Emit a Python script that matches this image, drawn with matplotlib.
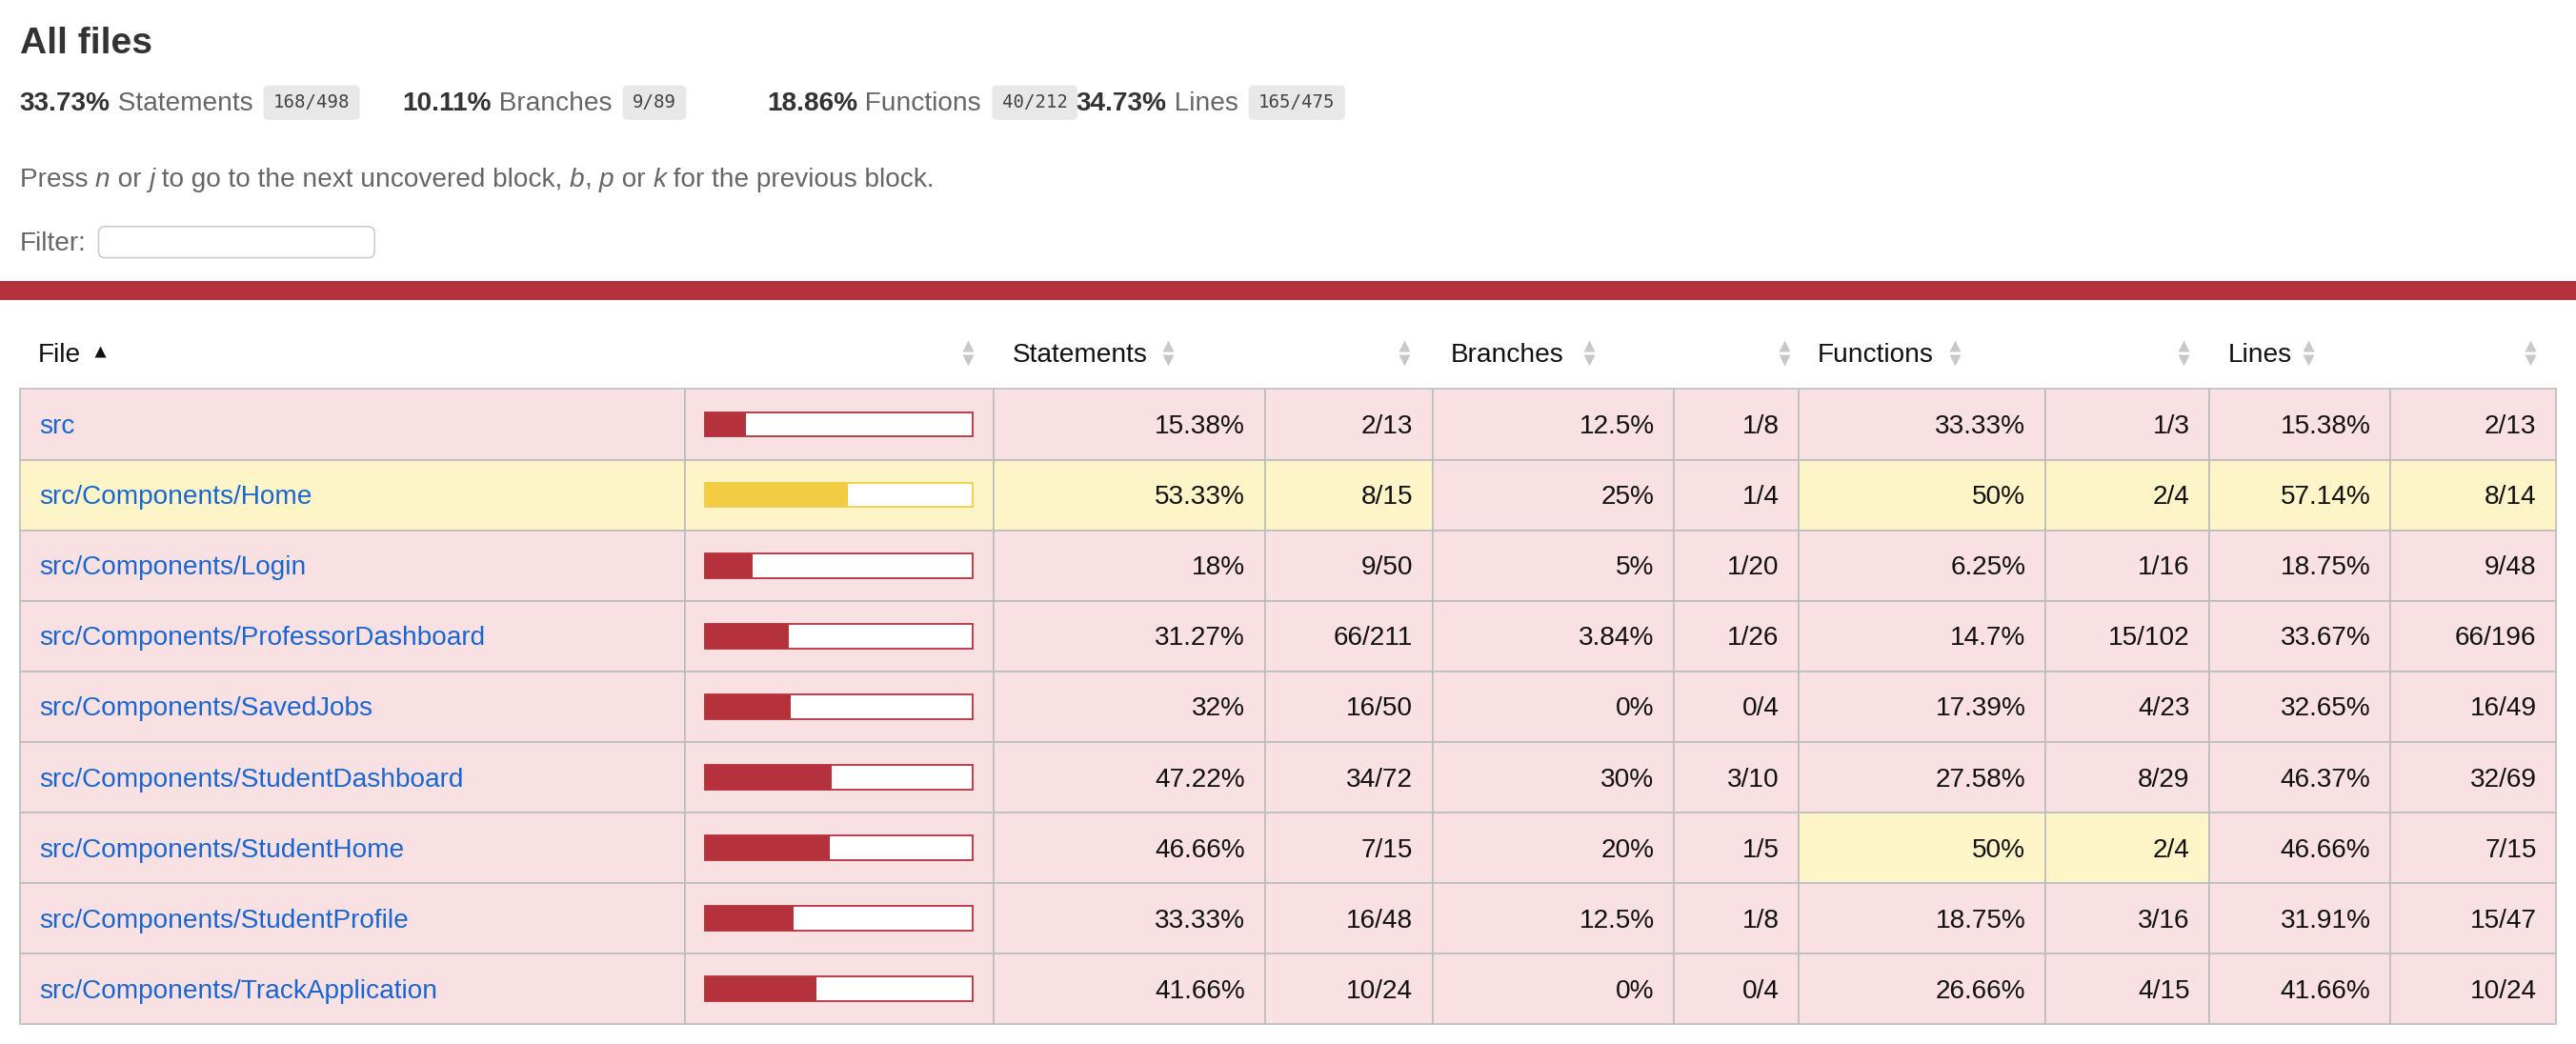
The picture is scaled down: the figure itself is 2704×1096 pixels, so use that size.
import matplotlib
matplotlib.use("Agg")
import matplotlib.pyplot as plt
from matplotlib.patches import Rectangle, FancyBboxPatch

# summary
summary_names = ["Statements", "Branches", "Functions", "Lines"]
summary_pct = ["33.73%", "10.11%", "18.86%", "34.73%"]
summary_frac = ["168/498", "9/89", "40/212", "165/475"]

files = ["src", "src/Components/Home", "src/Components/Login",
         "src/Components/ProfessorDashboard", "src/Components/SavedJobs",
         "src/Components/StudentDashboard", "src/Components/StudentHome",
         "src/Components/StudentProfile", "src/Components/TrackApplication"]
stmt_pct = [15.38, 53.33, 18, 31.27, 32, 47.22, 46.66, 33.33, 41.66]
stmt_frac = ["2/13", "8/15", "9/50", "66/211", "16/50", "34/72", "7/15", "16/48", "10/24"]
br_pct = [12.5, 25, 5, 3.84, 0, 30, 20, 12.5, 0]
br_frac = ["1/8", "1/4", "1/20", "1/26", "0/4", "3/10", "1/5", "1/8", "0/4"]
fn_pct = [33.33, 50, 6.25, 14.7, 17.39, 27.58, 50, 18.75, 26.66]
fn_frac = ["1/3", "2/4", "1/16", "15/102", "4/23", "8/29", "2/4", "3/16", "4/15"]
ln_pct = [15.38, 57.14, 18.75, 33.67, 32.65, 46.37, 46.66, 31.91, 41.66]
ln_frac = ["2/13", "8/14", "9/48", "66/196", "16/49", "32/69", "7/15", "15/47", "10/24"]

S = 2704 / 1568.0
FS = 14 * 1.16 * S * 0.72
FONT = "Liberation Sans"
RED, YEL = "#b5323d", "#f2cd44"
LOW_BG, MED_BG = "#f9e0e3", "#fdf4c8"
LINK = "#1a66d0"
DY = 1.5

fig = plt.figure(figsize=(27.04, 10.96), dpi=100)
ax = fig.add_axes([0, 0, 1, 1])
ax.set_xlim(0, 1568)
ax.set_ylim(636, 0)
ax.axis("off")
fig.canvas.draw()
rend = fig.canvas.get_renderer()


def pieces(x, y, parts, size=FS):
    # place text pieces one after another
    for txt, kw in parts:
        t = ax.text(x, y + DY, txt, fontsize=size, va="center", ha="left", family=FONT, **kw)
        bb = t.get_window_extent(rend).transformed(ax.transData.inverted())
        x = bb.x1
    return x


def cls(p):
    return "med" if 50 <= p < 80 else "low"


ax.text(12, 25 + DY, "All files", fontsize=20 * 1.13 * S * 0.72, fontweight="bold",
        family=FONT, va="center", color="#333")

xs = [12, 245, 467, 655]
for x0, n, p, f in zip(xs, summary_names, summary_pct, summary_frac):
    x1 = pieces(x0, 62, [(p, dict(fontweight="bold", color="#333")),
                         (" " + n + " ", dict(color="#666"))])
    t = ax.text(x1 + 8, 62 + 0.5, f, fontsize=11 * S * 0.72, family="DejaVu Sans Mono",
                va="center", ha="left", color="#444")
    bb = t.get_window_extent(rend).transformed(ax.transData.inverted())
    ax.add_patch(FancyBboxPatch((x1 + 2, 52), bb.x1 - x1 + 4, 21,
                                boxstyle="round,pad=0,rounding_size=3",
                                fc="#e8e8e8", ec="none", zorder=0))

g = dict(color="#666")
gi = dict(color="#666", style="italic")
pieces(12, 108, [("Press ", g), ("n", gi), (" or ", g), ("j", gi),
                 (" to go to the next uncovered block, ", g), ("b", gi), (", ", g),
                 ("p", gi), (" or ", g), ("k", gi), (" for the previous block.", g)])

ax.text(12, 147 + DY, "Filter:", fontsize=FS, family=FONT, va="center", color="#666")
ax.add_patch(FancyBboxPatch((60, 138), 168, 19, boxstyle="round,pad=0,rounding_size=4",
                            fc="white", ec="#cccccc", lw=1.2))

ax.add_patch(Rectangle((0, 171), 1568, 12, fc=RED, ec="none"))

# header
def arrows(x, y=215):
    ax.plot([x], [y - 4.5], marker="^", ms=9, color="#c8c8c8", mec="none")
    ax.plot([x], [y + 4.5], marker="v", ms=9, color="#c8c8c8", mec="none")

ax.text(23, 215 + DY, "File", fontsize=FS, family=FONT, va="center", color="#111")
ax.plot([61], [214], marker="^", ms=9, color="#111", mec="none")
for x in [589, 711, 855, 967, 1086, 1190, 1329, 1405, 1540]:
    arrows(x)
for x, h in zip([616, 883, 1106, 1356], ["Statements", "Branches", "Functions", "Lines"]):
    ax.text(x, 215 + DY, h, fontsize=FS, family=FONT, va="center", color="#111")

cols = [12, 417, 605, 770, 872, 1019, 1095, 1245, 1345, 1455, 1556]
top, rh = 237, 43.0
for i, name in enumerate(files):
    y0 = top + i * rh
    yc = y0 + rh / 2
    sc = cls(stmt_pct[i])
    classes = [sc, sc, sc, sc, cls(br_pct[i]), cls(br_pct[i]),
               cls(fn_pct[i]), cls(fn_pct[i]), cls(ln_pct[i]), cls(ln_pct[i])]
    for c in range(10):
        ax.add_patch(Rectangle((cols[c], y0), cols[c + 1] - cols[c], rh,
                               fc=MED_BG if classes[c] == "med" else LOW_BG,
                               ec="#bdbdbd", lw=1.2))
    ax.text(24, yc + DY, name, fontsize=FS, family=FONT, va="center", color=LINK)
    bc = YEL if sc == "med" else RED
    ax.add_patch(Rectangle((429, yc - 7.5), 163, 15, fc="white", ec=bc, lw=1.3))
    ax.barh([yc], [163 * stmt_pct[i] / 100], left=429, height=15, color=bc)
    vals = [f"{stmt_pct[i]:g}%", stmt_frac[i], f"{br_pct[i]:g}%", br_frac[i],
            f"{fn_pct[i]:g}%", fn_frac[i], f"{ln_pct[i]:g}%", ln_frac[i]]
    for c, v in enumerate(vals):
        ax.text(cols[c + 3] - 12, yc + DY, v, fontsize=FS, family=FONT, va="center",
                ha="right", color="#111")

fig.savefig("out.png", dpi=100)
